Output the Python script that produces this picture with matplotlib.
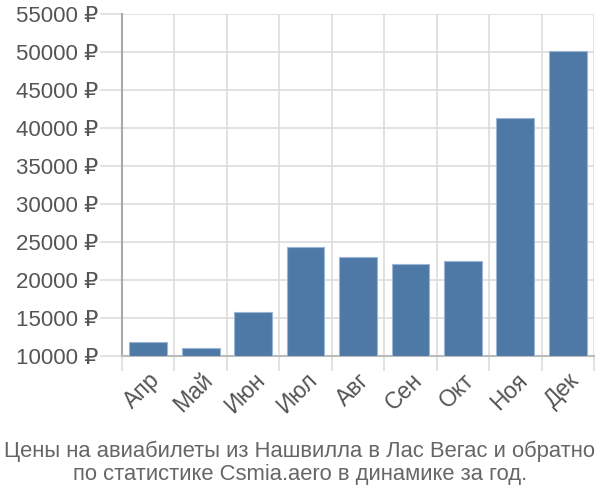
import matplotlib
matplotlib.use("Agg")
import matplotlib.pyplot as plt
import numpy as np

plt.rcParams['font.family'] = ['Liberation Sans', 'DejaVu Sans']

months = ["Апр", "Май", "Июн", "Июл", "Авг", "Сен", "Окт", "Ноя", "Дек"]
prices = [11900, 11050, 15750, 24400, 23000, 22100, 22450, 41300, 50100]
yticks = [10000, 15000, 20000, 25000, 30000, 35000, 40000, 45000, 50000, 55000]
title = "Цены на авиабилеты из Нашвилла в Лас Вегас и обратно\nпо статистике Csmia.aero в динамике за год."

fig = plt.figure(figsize=(6, 5), dpi=100)
ax = fig.add_axes([122/600, 1 - 356/500, 472/600, 342/500])

x = np.arange(len(months))
ax.bar(x, np.array(prices) - 10000, bottom=10000, width=0.72,
       color="#4e78a6", edgecolor="#9ab6d4", linewidth=0.8, zorder=3)

ax.set_xlim(-0.5, len(months) - 0.5)
ax.set_ylim(10000, 55000)

ax.set_yticks(yticks)
ax.set_yticklabels([f"{v} ₽" for v in yticks])
ax.set_xticks(x)
ax.set_xticklabels(months, rotation=45, ha="right", rotation_mode="anchor")
ax.set_xticks(np.arange(len(months) + 1) - 0.5, minor=True)

ax.tick_params(axis="y", length=16, width=1.2, color="#dddddd", pad=1,
               labelsize=16, labelcolor="#555555")
ax.tick_params(axis="x", which="major", length=0, pad=9,
               labelsize=16.5, labelcolor="#555555")
ax.tick_params(axis="x", which="minor", length=11, width=1.2, color="#dddddd")

ax.grid(axis="y", color="#dddddd", linewidth=1.2, zorder=0)
ax.grid(axis="x", which="minor", color="#dddddd", linewidth=1.2, zorder=0)

for s in ["top", "right"]:
    ax.spines[s].set_visible(False)
ax.spines["left"].set_color("#aaaaaa")
ax.spines["left"].set_linewidth(1.5)
ax.spines["bottom"].set_color("#bbbbbb")
ax.spines["bottom"].set_linewidth(1.5)

fig.text(0.5, 0.03, title, ha="center", va="bottom", fontsize=15.8,
         color="#666666", linespacing=1.15)

fig.savefig("out.png", dpi=100)
